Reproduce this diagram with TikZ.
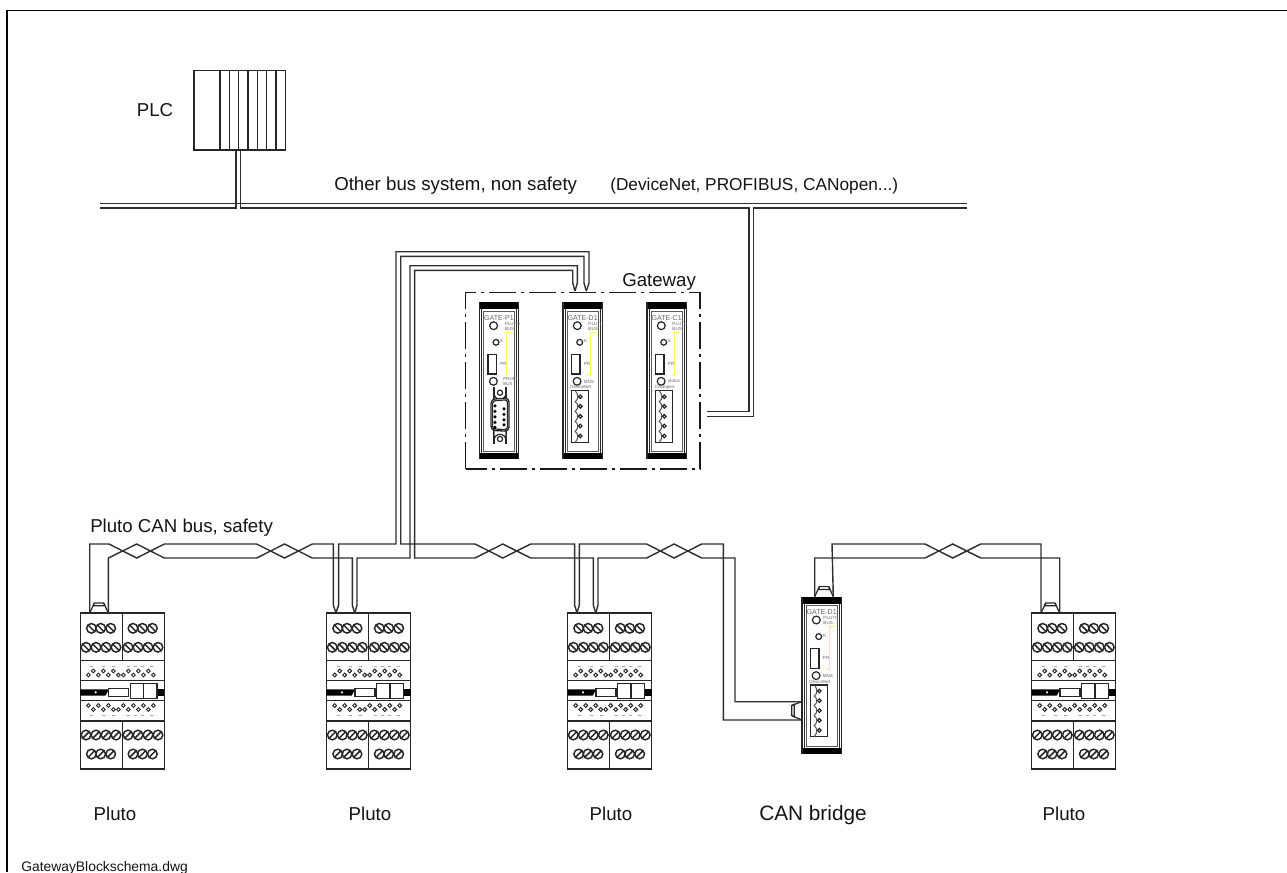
\documentclass[tikz,border=0pt]{standalone}
\usepackage{fontspec}
\setmainfont{Liberation Sans}
\tikzset{
  wire/.style={draw=black!82,line width=1.05pt,line join=miter},
  partline/.style={draw=black!85,line width=0.9pt},
  thinpart/.style={draw=black!65,line width=0.5pt},
  lbl/.style={font=\fontsize{14}{16}\selectfont,inner sep=0pt,text=black!92},
  tiny/.style={inner sep=0pt,text=black!60,font=\fontsize{3.4}{3.6}\selectfont,align=left,anchor=west},
  gname/.style={inner sep=0pt,text=black!60,font=\fontsize{5.3}{6}\selectfont,anchor=center},
  screwA/.pic={\draw[partline,line width=1.1pt] (0,0) circle[radius=4.8]; \draw[partline,line width=1.1pt] (-3.4,-3.4) -- (3.4,3.4);},
  screwB/.pic={\draw[partline,line width=1.1pt] (0,0) circle[radius=4.8]; \draw[partline,line width=1.1pt] (-3.4,3.4) -- (3.4,-3.4);},
  led/.style={draw=black!85,line width=0.9pt,fill=white},
  pluto/.pic={
    \coordinate (-w1) at (9.3,0);
    \coordinate (-w2) at (28,0);
    \draw[partline] (0,0) rectangle (84,156);
    \draw[partline] (42,0) -- (42,47.7) (42,108) -- (42,156);
    \draw[partline] (0,47.7) -- (84,47.7) (0,67.7) -- (84,67.7) (0,87.7) -- (84,87.7) (0,108) -- (84,108);
    \foreach \x in {11,20.3,30.3,52.6,62,72} \pic at (\x,15.3) {screwA};
    \foreach \x in {5.6,15.6,25.6,35.6,47.6,57.6,67.6,77.6} \pic at (\x,34.3) {screwA};
    \foreach \x in {5.6,15.6,25.6,35.6,47.6,57.6,67.6,77.6} \pic at (\x,122) {screwB};
    \foreach \x in {11,20.3,30.3,52.6,62,72} \pic at (\x,141) {screwB};
    \foreach \x/\y in {8/62,13/58,18/62,23/58,28/62,33/58,38/62,43/62,48/58,53/62,58/58,63/62,68/58,73/62}
      \draw[draw=black!85,line width=0.7pt] (\x,\y) circle[radius=1.9];
    \foreach \x/\y in {8/92.5,13/96.5,18/92.5,23/96.5,28/92.5,33/96.5,38/96.5,43/92.5,48/96.5,53/92.5,58/96.5,63/92.5,68/96.5,73/92.5}
      \draw[draw=black!85,line width=0.7pt] (\x,\y) circle[radius=1.9];
    \foreach \x in {10,22,32,47,54,61,70} {\draw[black!35,line width=0.4pt] (\x,53.5) -- (\x+3,53.5);
      \draw[black!35,line width=0.4pt] (\x,102.5) -- (\x+3,102.5);}
    \fill[black] (0,76.3) -- (28.5,76.3) -- (25,82.7) -- (0,82.7) -- cycle;
    \fill[white] (15.3,79.3) circle[radius=1.2];
    \draw[partline,line width=1pt,fill=white] (28.3,75.7) rectangle (48.3,83.7);
    \fill[black] (76.6,76.3) rectangle (84,82.7);
    \draw[partline,line width=1.05pt,fill=white] (50,70.3) rectangle (76.6,85.3);
    \draw[partline,line width=1.05pt] (63.3,70.3) -- (63.3,85.3);
  },
  plugtop/.pic={
    \draw[partline] (0,0) -- (4.7,-10) -- (14,-10) -- (18.6,0);
    \draw[partline] (4.7,-10) -- (3.5,-7.2) -- (15.2,-7.2) -- (14,-10);
  },
  gatecommon/.pic={
    \fill[black] (0,0) rectangle (40,7);
    \fill[black] (0,151) rectangle (40,157);
    \draw[partline,line width=1.05pt] (0.4,0) -- (0.4,157) (39.6,0) -- (39.6,157);
    \draw[partline] (2.6,7) -- (2.6,151) (37.4,7) -- (37.4,151);
    \draw[thinpart] (4.2,8.6) rectangle (35.8,149.4);
    \draw[led] (14.6,23.4) circle[radius=3.9];
    \draw[led] (17,40) circle[radius=2.9];
    \draw[led] (14.4,79) circle[radius=3.9];
    \draw[partline,line width=0.95pt] (9,52) rectangle (17.3,71.7);
    \draw[yellow!65,line width=0.35pt] (33.7,29.7) -- (27.7,29.7) -- (27.7,72.7) -- (25.5,72.7);
    \node[tiny] (-pr) at (21,61.2) {PR};
    \node[tiny] (-k) at (21.2,39) {K};
  },
  terminal/.pic={
    \draw[partline,line width=1pt] (9,88.4) rectangle (25.9,140);
    \draw[thinpart,line width=0.8pt] (12.5,88.4) .. controls (16,92) and (16,97) .. (12.5,99.5) .. controls (16,102) and (16,106) .. (12.5,109) .. controls (16,112) and (16,116) .. (12.5,119) .. controls (16,122) and (16,126) .. (12.5,129) .. controls (16,132) and (16,136) .. (12.5,140);
    \foreach \y in {94.4,104,114,123.7,133.7} \draw[partline] (17.6,\y) circle[radius=1.8];
  },
  dsub/.pic={
    \draw[partline] (15,85) -- (15,142) (27,85) -- (27,142);
    \draw[partline,fill=white] (15,91) arc[start angle=180,end angle=0,radius=6] -- (27,138) arc[start angle=0,end angle=-180,radius=6] -- cycle;
    \draw[partline] (21,90.4) circle[radius=2.6];
    \draw[partline] (21,136.7) circle[radius=2.6];
    \draw[partline,line width=1pt,fill=white,rounded corners=3pt] (12,97) -- (30,95.6) -- (30,129) -- (12,128) -- cycle;
    \draw[partline,rounded corners=2pt] (13.6,98.6) -- (28.4,97.4) -- (28.4,127.4) -- (13.6,126.6) -- cycle;
    \foreach \y in {103.6,109,114.6,120,125} \fill (16,\y) circle[radius=1.7];
    \foreach \y in {106.5,112,117.5,122.5} \fill (25,\y) circle[radius=1.7];
  },
}
\begin{document}
\begin{tikzpicture}[x=0.75pt,y=-0.75pt]
\useasboundingbox (0,0) rectangle (1287,872);
\draw[black,line width=0.9pt] (7,872) -- (7,10.3) -- (1287,10.3);

% PLC
\draw[partline,line width=1.1pt] (194,70.7) rectangle (285.3,150);
\foreach \x in {220,229.3,238.7,248,257.3,266.7,276} \draw[partline,line width=1.1pt] (\x,70.7) -- (\x,150);
\coordinate (plcA) at (236,150);
\coordinate (plcB) at (240.7,150);
\node[lbl,anchor=base] (tplc) at (155,116) {PLC};

% Other bus
\coordinate (busL) at (100,203.3);
\coordinate (busR) at (967,203.3);
\draw[wire] (busL) -- (busR);
\draw[wire] (100,208) -- (236,208) -- (plcA);
\draw[wire] (plcB) -- (240.7,208) -- (749,208) -- (749,411.7) -- (706.7,411.7);
\draw[wire] (967,208) -- (753.3,208) -- (753.3,416.7) -- (706.7,416.7);
\node[lbl,anchor=base west] (tother) at (334,190) {Other bus system, non safety};
\node[lbl,anchor=base west,font=\fontsize{12.95}{15}\selectfont] (tdev) at (610,190) {(DeviceNet, PROFIBUS, CANopen...)};

% Gateway
\draw[black!90,line width=1pt,dash pattern=on 20.25pt off 3.75pt on 2.25pt off 3.75pt] (465.7,469) -- (465.7,292.7) -- (700,292.7) -- (700,469) -- cycle;
\node[lbl,anchor=base west] (tgate) at (622,286) {Gateway};

% module 1
\pic (gP) at (479,302.3) {gatecommon};
\node[gname] (gPn) at (499,318) {GATE-P1};
\node[tiny] (gPa) at (504.5,326.2) {PLUTO\\BUS};
\node[tiny] (gPb) at (503,381.5) {PROFI\\BUS};
\pic at (479,302.3) {dsub};
% module 2
\pic (gD) at (562.7,302.3) {gatecommon};
\pic at (562.7,302.3) {terminal};
\node[gname] (gDn) at (582.7,318) {GATE-D1};
\node[tiny] (gDa) at (588.2,326.2) {PLUTO\\BUS};
\node[tiny] (gDb) at (583.5,381.5) {MNS};
\node[tiny,anchor=center] (gDc) at (580.7,387.3) {DeviceNet};
\coordinate (tipL) at (575,291);
\coordinate (tipR) at (586.3,291);
% module 3
\pic (gC) at (646.7,302.3) {gatecommon};
\pic at (646.7,302.3) {terminal};
\node[gname] (gCn) at (666.7,318) {GATE-C1};
\node[tiny] (gCa) at (672.2,326.2) {PLUTO\\BUS};
\node[tiny] (gCb) at (667.5,381.5) {status};
\node[tiny,anchor=center] (gCc) at (664.7,387.3) {CANopen};

% CAN bridge
\pic (gB) at (801.7,596.6) {gatecommon};
\pic at (801.7,596.6) {terminal};
\node[gname] (gBn) at (821.7,612.3) {GATE-D1};
\node[tiny] (gBa) at (823.2,620.5) {PLUTO\\BUS};
\node[tiny] (gBb) at (822.5,675.8) {MNS};
\node[tiny,anchor=center] (gBc) at (819.7,681.6) {DeviceNet};
\pic at (814.7,596.6) {plugtop};
\coordinate (brT1) at (814.7,596.6);
\coordinate (brT2) at (833.3,596.6);
\coordinate (brL1) at (801.7,701.7);
\coordinate (brL2) at (801.7,720);
\draw[partline] (brL1) -- (791.7,705.5) -- (791.7,715.5) -- (brL2);
\draw[partline] (791.7,705.5) -- (794.3,704.3) -- (794.3,716.7) -- (791.7,715.5);

% Plutos
\pic (pA) at (80.4,613) {pluto};
\pic (pB) at (326.7,613) {pluto};
\pic (pC) at (567.7,613) {pluto};
\pic (pE) at (1031.7,613) {pluto};
\pic at (89.7,613) {plugtop};
\pic at (1041,613) {plugtop};

% CAN bus
\draw[wire] (pA-w1) -- (89.7,544) -- (109,544) -- (136.7,558) -- (164.3,544) -- (256.7,544) -- (284.5,558) -- (312.3,544) -- (333.3,544) -- (333.3,605) -- (pB-w1);
\draw[wire] (pA-w2) -- (108.4,558) -- (136.7,544) -- (164.3,558) -- (256.7,558) -- (284.5,544) -- (312.3,558) -- (352.3,558) -- (352.3,605) -- (pB-w2);
\draw[wire] (pB-w1) -- (338.6,605) -- (338.6,544) -- (396,544) -- (396,251.7) -- (589,251.7) -- (589,283) -- (tipR);
\draw[wire] (pB-w2) -- (357,605) -- (357,558) -- (410,558) -- (410,265.7) -- (577.3,265.7) -- (577.3,283) -- (tipL);
\draw[wire] (tipL) -- (572.7,283) -- (572.7,270.3) -- (414.6,270.3) -- (414.6,558) -- (475,558) -- (502.8,544) -- (530.7,558) -- (593.3,558) -- (593.3,605) -- (pC-w2);
\draw[wire] (tipR) -- (584,283) -- (584,256.3) -- (400.7,256.3) -- (400.7,544) -- (475,544) -- (502.8,558) -- (530.7,544) -- (574.6,544) -- (574.6,605) -- (pC-w1);
\draw[wire] (pC-w1) -- (579.3,605) -- (579.3,544) -- (646.7,544) -- (674,558) -- (701.7,544) -- (723.3,544) -- (723.3,720) -- (brL2);
\draw[wire] (pC-w2) -- (598,605) -- (598,558) -- (646.7,558) -- (674,544) -- (701.7,558) -- (735,558) -- (735,701.7) -- (brL1);
\draw[wire] (brT1) -- (814.7,558) -- (925,558) -- (952.7,544) -- (980.7,558) -- (pE-w2 |- 0,558) -- (pE-w2);
\draw[wire] (brT2) -- (832,544) -- (925,544) -- (952.7,558) -- (980.7,544) -- (pE-w1 |- 0,544) -- (pE-w1);

% labels
\node[lbl,anchor=base west] (tcan) at (90,532) {Pluto CAN bus, safety};
\node[lbl,anchor=base] (t1) at (115,820) {Pluto};
\node[lbl,anchor=base] (t2) at (370,820) {Pluto};
\node[lbl,anchor=base] (t3) at (611,820) {Pluto};
\node[lbl,anchor=base,font=\fontsize{15.6}{17}\selectfont] (t4) at (813,820) {CAN bridge};
\node[lbl,anchor=base] (t5) at (1064,820) {Pluto};
\node[lbl,anchor=base west,font=\fontsize{10.4}{12}\selectfont] (tfile) at (21,871) {GatewayBlockschema.dwg};
\end{tikzpicture}
\end{document}
